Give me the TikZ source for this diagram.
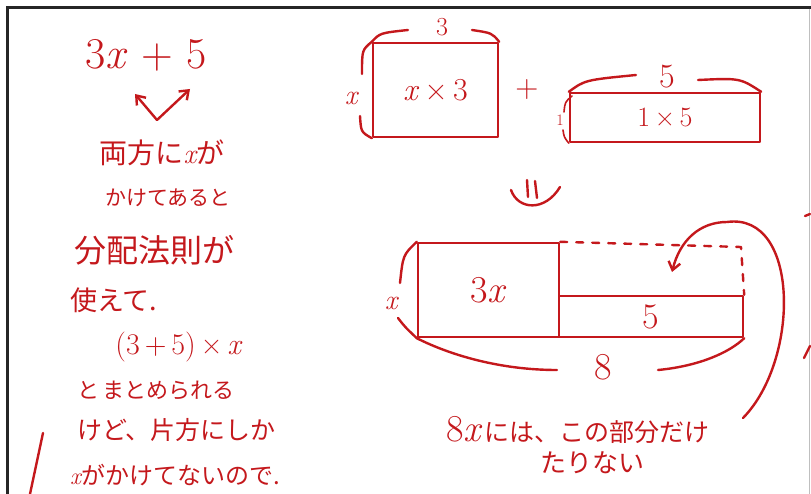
\documentclass[tikz,border=0pt]{standalone}
\usepackage{fontspec}
\newfontfamily\jpfont{Noto Sans CJK JP}
\usetikzlibrary{arrows.meta}
\definecolor{pen}{RGB}{196,24,28}
\newcommand\vx{{\rmfamily\itshape x}}
\tikzset{
  ink/.style={draw=pen, line width=2.4pt, line cap=round, line join=round},
  box/.style={ink, inner sep=0pt, text=pen},
  lbl/.style={text=pen, inner sep=0pt, font=\fontsize{#1}{#1}\selectfont},
  jtxt/.style={text=pen, inner sep=0pt, font=\jpfont\fontsize{#1}{#1}\selectfont},
  scanframe/.style={line width=3pt, black!85},
  barb/.style={-{Straight Barb[length=8pt,width=12pt]}},
}

\begin{document}
\begin{tikzpicture}[x=1pt,y=-1pt]
\useasboundingbox (0,0) rectangle (811,494);
% edge of the scanned sheet
\draw[scanframe] (7,494) -- (7,8) -- (811,8);
\draw[gray!50, line width=1pt] (809,9) -- (809,494);

% left column
\node[lbl=44] (expr) at (146,55) {3\textit{x} + 5};
\coordinate (vtip) at (157,120);
\coordinate (vl) at (135,94);
\coordinate (vr) at (190,89);
\draw[ink, barb] (vtip) -- (vl);
\draw[ink, barb] (vtip) -- (vr);

\node[jtxt=28] (l1) at (162,153) {両方に\vx が};
\node[jtxt=21] (l2) at (168,198) {かけてあると};
\node[jtxt=32] (l3) at (154,250) {分配法則が};
\node[jtxt=27, anchor=west] (l4) at (70,300) {使えて.};
\node[lbl=30] (l5) at (179,347) {(3\,+\,5)\,×\,\textit{x}};
\node[jtxt=22, anchor=west] (l6) at (77,390) {と\,まとめられる};
\node[jtxt=25, anchor=west] (l7) at (77,430) {けど、片方にしか};
\node[jtxt=24, anchor=west] (l8) at (70,475) {\vx がかけてないので.};
\draw[ink] (43,433) -- (30,494);

% top: two separate areas
\node[box, minimum width=125, minimum height=94, font=\fontsize{32}{32}\selectfont] (rx) at (435.5,90) {\textit{x}\,×\,3};
\draw[ink] (rx.north west) .. controls (380,33) .. (408,30);
\draw[ink] (472,30) .. controls (492,33) .. (rx.north east);
\node[lbl=26] (t3) at (442,27) {3};
\draw[ink] (rx.north west) .. controls (362,50) .. (362,74);
\draw[ink] (360,116) .. controls (361,132) .. (rx.south west);
\node[lbl=28] (tx) at (352,98) {\textit{x}};

\node[lbl=32] (plus) at (527,90) {+};

\node[box, minimum width=190, minimum height=49, font=\fontsize{28}{28}\selectfont] (r15) at (665,117.5) {1\,×\,5};
\draw[ink] (r15.north west) .. controls (585,80) .. (636,75);
\draw[ink] (698,80) .. controls (740,78) .. (r15.north east);
\node[lbl=34] (t5) at (667,77) {5};
\draw[ink, line width=1.6pt] (572,96) .. controls (565,102) .. (564,112);
\draw[ink, line width=1.6pt] (563,130) .. controls (564,137) .. (r15.south west);
\node[lbl=16] (t1) at (560,120) {1};

% equals, turned
\draw[ink] (527,180) -- (528,197);
\draw[ink] (535,181) -- (537,198);
\draw[ink] (511,190) .. controls (518,210) and (545,212) .. (560,187);

% bottom: joined areas
\node[box, minimum width=141, minimum height=94, font=\fontsize{38}{38}\selectfont] (big) at (488.5,290) {3\textit{x}};
\node[box, minimum width=184, minimum height=41, font=\fontsize{36}{36}\selectfont] (bar) at (651,316.5) {5};
\draw[ink, dash pattern=on 7pt off 9pt] (big.north east) -- (741,247) -- (bar.north east);
\draw[ink] (big.north west) .. controls (403,255) .. (400,283);
\draw[ink] (398,318) .. controls (405,327) .. (big.south west);
\node[lbl=28] (bx) at (392,303) {\textit{x}};
\draw[ink] (big.south west) .. controls (450,355) and (500,370) .. (557,370);
\draw[ink] (658,370) .. controls (700,366) and (730,352) .. (bar.south east);
\node[lbl=38] (b8) at (603,367) {8};

\node[jtxt=25] (m1) at (578,430) {{\rmfamily\fontsize{38}{38}\selectfont 8\itshape x}\,には、この部分だけ};
\node[jtxt=26] (m2) at (592,463) {たりない};

\coordinate (tail) at (743,418);
\coordinate (head) at (672,272);
\draw[ink, barb] (tail) .. controls (800,360) and (800,212) .. (727,222)
  .. controls (700,222) and (680,240) .. (head);

% strokes cut off by the right edge
\draw[ink] (805,216) -- (810,214);
\draw[ink] (804,358) -- (810,346);
\end{tikzpicture}
\end{document}
